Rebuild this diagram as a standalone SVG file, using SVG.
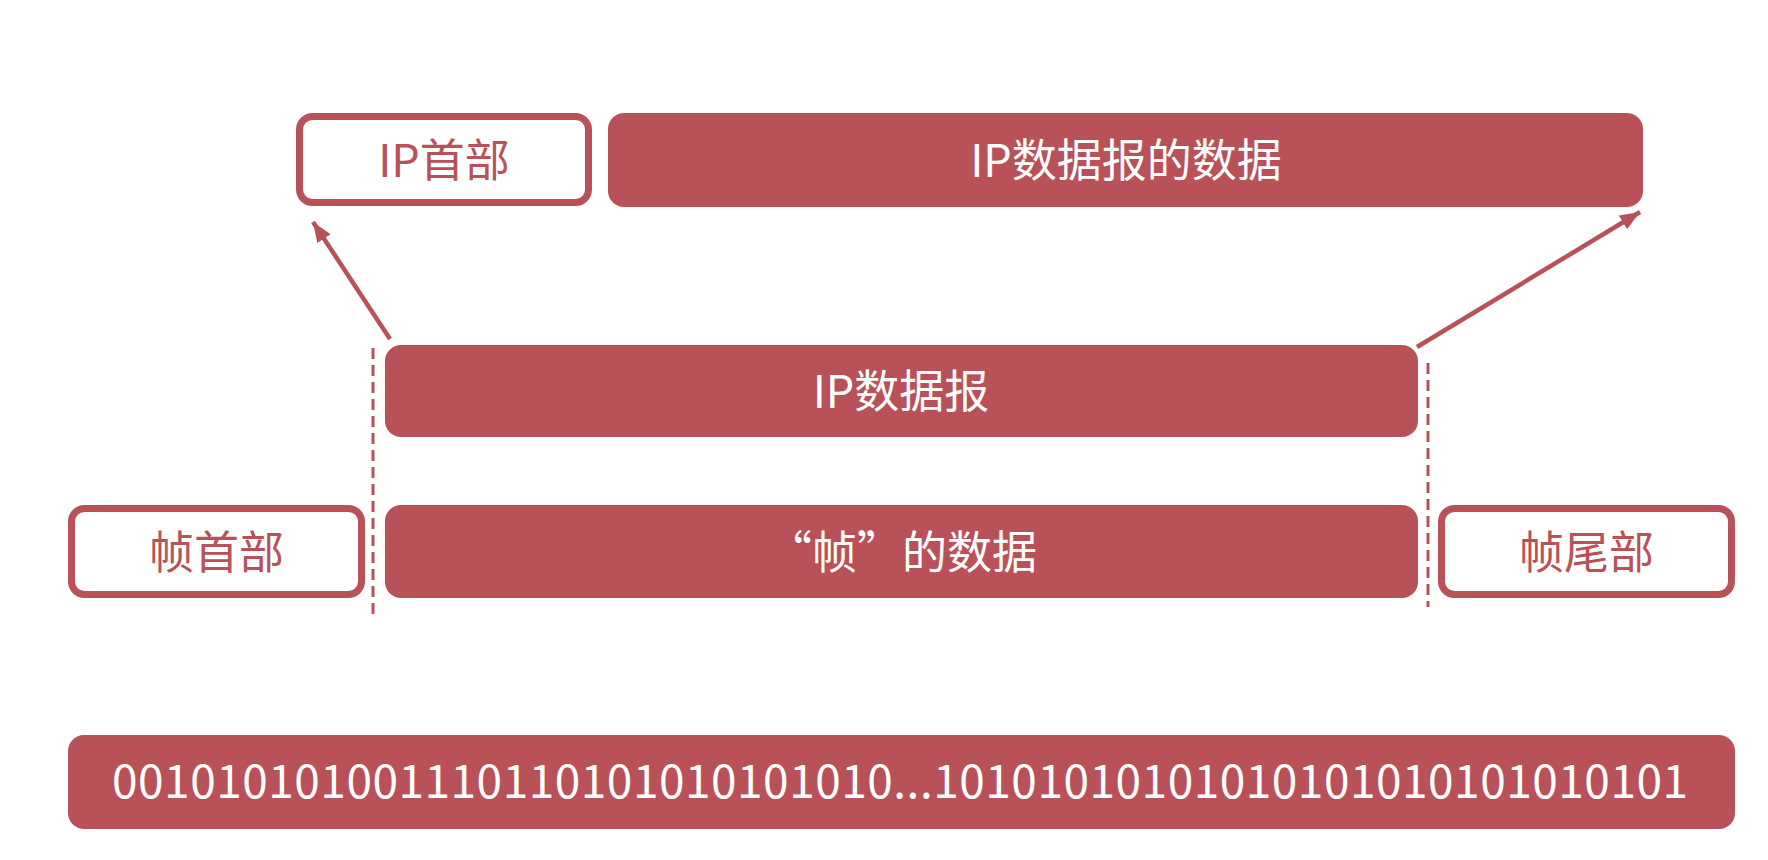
<svg xmlns="http://www.w3.org/2000/svg" width="1768" height="860" viewBox="0 0 1768 860">
  <style>
    .fill { fill: #B95158; }
    .outline { fill: #FFFFFF; stroke: #B95158; stroke-width: 7; }
    .t { font-family: "Noto Sans CJK SC", "Noto Sans", sans-serif; font-size: 45px; text-anchor: middle; }
    .tw { fill: #FFFFFF; }
    .tr { fill: #B95158; }
    .dash { stroke: #B95158; stroke-width: 3; stroke-dasharray: 11 6; fill: none; }
    .arrow { stroke: #B95158; stroke-width: 4.5; fill: none; }
  </style>
  <defs>
    <marker id="ah" markerUnits="userSpaceOnUse" markerWidth="22" markerHeight="18" refX="20" refY="8" orient="auto">
      <path d="M0,0 L20,8 L0,16 z" fill="#B95158"/>
    </marker>
  </defs>
  <rect width="1768" height="860" fill="#FFFFFF"/>

  <g id="ip-header">
    <rect class="outline" x="299.5" y="116.5" width="289" height="86" rx="13"/>
    <text class="t tr" x="444" y="177">IP首部</text>
  </g>
  <g id="ip-data">
    <rect class="fill" x="608" y="113" width="1035" height="94" rx="16"/>
    <text class="t tw" x="1126" y="177">IP数据报的数据</text>
  </g>
  <g id="ip-datagram">
    <rect class="fill" x="385" y="345" width="1033" height="92" rx="16"/>
    <text class="t tw" x="901" y="408">IP数据报</text>
  </g>
  <g id="frame-header">
    <rect class="outline" x="71.5" y="508.5" width="290" height="86" rx="13"/>
    <text class="t tr" x="216.5" y="569">帧首部</text>
  </g>
  <g id="frame-data">
    <rect class="fill" x="385" y="505" width="1033" height="93" rx="16"/>
    <text class="t tw" x="902" y="569">“帧”的数据</text>
  </g>
  <g id="frame-trailer">
    <rect class="outline" x="1441.5" y="508.5" width="290" height="86" rx="13"/>
    <text class="t tr" x="1586.5" y="569">帧尾部</text>
  </g>
  <g id="bits">
    <rect class="fill" x="68" y="735" width="1667" height="94" rx="16"/>
    <text class="tw" x="112" y="798" font-family="Noto Sans CJK SC, Noto Sans, sans-serif" font-size="46" textLength="1576" lengthAdjust="spacing">001010101001110110101010101010...10101010101010101010101010101</text>
  </g>

  <g id="connectors">
    <line class="dash" x1="373" y1="348" x2="373" y2="615"/>
    <line class="dash" x1="1428" y1="363" x2="1428" y2="607"/>
    <line class="arrow" x1="390" y1="339" x2="313" y2="222" marker-end="url(#ah)"/>
    <line class="arrow" x1="1417" y1="347" x2="1640" y2="212" marker-end="url(#ah)"/>
  </g>
</svg>
